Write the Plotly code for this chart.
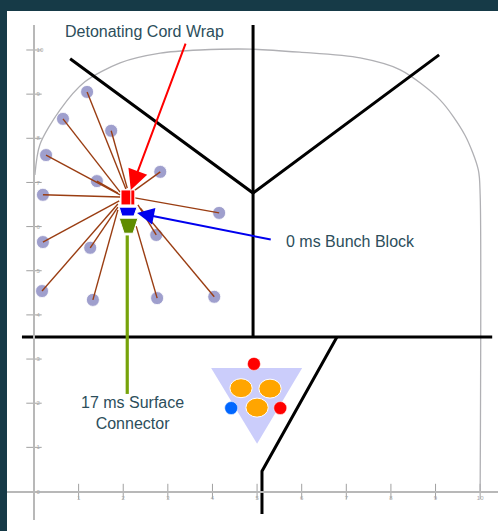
import plotly.graph_objects as go

PAPER_W, PAPER_H = 498, 531
TEXT = "#2c4e5b"
FONT = "Liberation Sans"

tick_values = list(range(11))

hole_x = [1.19, 0.65, 1.73, 0.27, 2.83, 1.41, 0.20, 4.15, 2.74, 0.20, 1.26, 0.18, 1.32, 2.76, 4.04]
hole_y = [9.05, 8.44, 8.17, 7.62, 7.24, 7.03, 6.72, 6.31, 5.81, 5.65, 5.52, 4.54, 4.34, 4.38, 4.41]
wire_x = [2.06, 1.93, 2.09, 1.93, 2.24, 1.88, 1.93, 2.26, 2.33, 1.91, 1.88, 1.88, 1.88, 2.29, 2.38]
wire_y = [6.85, 6.78, 6.87, 6.72, 6.81, 6.76, 6.67, 6.65, 6.49, 6.58, 6.44, 6.51, 6.38, 6.01, 6.42]

outline_x = [0.02, 0.13, 0.58, 1.14, 1.93, 2.83, 3.72, 4.84, 5.96, 7.31, 8.21, 9.10, 9.66, 9.96, 10.0, 10.0]
outline_y = [7.17, 7.85, 8.64, 9.28, 9.71, 9.93, 10.0, 10.02, 9.95, 9.82, 9.55, 8.87, 8.07, 7.28, 6.72, 0.0]

cut_x = [0.81, 4.91, 9.08]
cut_y = [9.80, 6.76, 9.89]
center_line_x = [4.91, 4.91]
center_line_y = [10.61, 3.49]
floor_x = [-0.27, 10.27]
floor_y = [3.50, 3.50]
lower_x = [6.79, 5.11, 5.11]
lower_y = [3.50, 0.46, -0.51]

wrap_x = [1.95, 2.26, 2.26, 1.95, 1.95]
wrap_y = [6.83, 6.83, 6.49, 6.49, 6.83]
wrap_seam_x = [2.17, 2.17]
wrap_seam_y = [6.83, 6.49]
bunch_x = [1.91, 2.31, 2.24, 1.97, 1.91]
bunch_y = [6.44, 6.44, 6.24, 6.24, 6.44]
connector_x = [1.91, 2.33, 2.22, 2.02, 1.91]
connector_y = [6.19, 6.19, 5.85, 5.85, 6.19]
stem_x = [2.09, 2.09]
stem_y = [5.80, 2.21]

legend_tri_x = [3.97, 6.01, 5.00, 3.97]
legend_tri_y = [2.80, 2.80, 1.08, 2.80]
orange_x = [4.64, 5.29, 5.00]
orange_y = [2.34, 2.33, 1.90]
orange_rx = 0.25
orange_ry = 0.215
red_dot_x = [4.93, 5.52]
red_dot_y = [2.89, 1.89]
blue_dot_x = [4.42]
blue_dot_y = [1.89]

fig = go.Figure()


def line(x, y, color, width):
    fig.add_trace(go.Scatter(x=x, y=y, mode="lines", line=dict(color=color, width=width),
                             hoverinfo="skip", cliponaxis=False))


def poly(x, y, fill, edge="white", width=1):
    fig.add_trace(go.Scatter(x=x, y=y, mode="lines", fill="toself", fillcolor=fill,
                             line=dict(color=edge, width=width), hoverinfo="skip", cliponaxis=False))


# Crossing tick marks on both background axes
fig.add_trace(go.Scatter(x=[0] * len(tick_values), y=tick_values, mode="markers",
                         marker=dict(symbol="line-ew", size=11, line=dict(color="#a0a0a0", width=1)),
                         hoverinfo="skip", cliponaxis=False))
fig.add_trace(go.Scatter(x=tick_values, y=[0] * len(tick_values), mode="markers",
                         marker=dict(symbol="line-ns", size=11, line=dict(color="#a0a0a0", width=1)),
                         hoverinfo="skip", cliponaxis=False))

fig.add_trace(go.Scatter(x=outline_x, y=outline_y, mode="lines",
                         line=dict(color="#b0b0b4", width=1.3, shape="spline", smoothing=0.8),
                         hoverinfo="skip"))

fig.add_trace(go.Scatter(x=hole_x, y=hole_y, mode="markers",
                         marker=dict(size=13, color="#9f9fcd", line=dict(color="white", width=0.8)),
                         hoverinfo="skip"))
for hx, hy, wx, wy in zip(hole_x, hole_y, wire_x, wire_y):
    line([hx, wx], [hy, wy], "#9a3d12", 1.4)

line(cut_x, cut_y, "black", 3)
line(center_line_x, center_line_y, "black", 3)
line(floor_x, floor_y, "black", 3)
line(lower_x, lower_y, "black", 3)

line(stem_x, stem_y, "#76a30a", 3.2)
poly(wrap_x, wrap_y, "#ff0000")
line(wrap_seam_x, wrap_seam_y, "white", 1)
poly(bunch_x, bunch_y, "#0000ee")
poly(connector_x, connector_y, "#5f8c00")

poly(legend_tri_x, legend_tri_y, "#cbcdfb", edge="rgba(0,0,0,0)", width=0)
fig.add_trace(go.Scatter(x=red_dot_x, y=red_dot_y, mode="markers",
                         marker=dict(size=13, color="#ff0000", line=dict(color="white", width=0.5)),
                         hoverinfo="skip"))
fig.add_trace(go.Scatter(x=blue_dot_x, y=blue_dot_y, mode="markers",
                         marker=dict(size=13, color="#0066ff", line=dict(color="white", width=0.5)),
                         hoverinfo="skip"))

shapes = [dict(type="rect", xref="paper", yref="paper", x0=7 / PAPER_W, x1=1, y0=0, y1=1 - 11 / PAPER_H,
               fillcolor="white", line_width=0, layer="below")]
for ox, oy in zip(orange_x, orange_y):
    shapes.append(dict(type="circle", xref="x", yref="y",
                       x0=ox - orange_rx, x1=ox + orange_rx, y0=oy - orange_ry, y1=oy + orange_ry,
                       fillcolor="#ffa500", line=dict(color="white", width=1), layer="above"))

annotations = [
    dict(x=2.47, y=10.41, text="Detonating Cord Wrap", showarrow=False),
    dict(x=7.09, y=5.67, text="0 ms Bunch Block", showarrow=False),
    dict(x=2.2, y=1.78, text="17 ms Surface<br>Connector", showarrow=False),
    dict(x=2.17, y=6.83, ax=3.41, ay=10.18, axref="x", ayref="y", text="", showarrow=True,
         arrowhead=2, arrowsize=2, arrowwidth=2, arrowcolor="#ff0000"),
    dict(x=2.31, y=6.31, ax=5.34, ay=5.70, axref="x", ayref="y", text="", showarrow=True,
         arrowhead=2, arrowsize=1.7, arrowwidth=2, arrowcolor="#0000ee"),
]

axis_style = dict(tickmode="array", tickvals=tick_values, ticktext=[str(v) for v in tick_values],
                  showgrid=False, zeroline=False, showline=True, linecolor="#b8b8b8", linewidth=1.6,
                  ticks="", tickfont=dict(family=FONT, size=6, color="#a8a8a8"),
                  anchor="free", fixedrange=True)

fig.update_layout(
    width=PAPER_W, height=PAPER_H,
    margin=dict(l=0, r=0, t=0, b=0),
    paper_bgcolor="#163a47", plot_bgcolor="rgba(0,0,0,0)",
    showlegend=False,
    shapes=shapes, annotations=annotations,
    font=dict(family=FONT, size=16, color=TEXT),
    xaxis=dict(domain=[7 / PAPER_W, 1], range=[-0.605, 10.40],
               position=39.5 / PAPER_H, **axis_style),
    yaxis=dict(domain=[11 / PAPER_H, 506 / PAPER_H], range=[-0.6455, 10.566],
               position=34 / PAPER_W, ticklabelposition="inside", **axis_style),
)

fig.write_html("out.html", config={"displayModeBar": False},
               post_script="document.body.style.margin='0';document.body.style.overflow='hidden';")
